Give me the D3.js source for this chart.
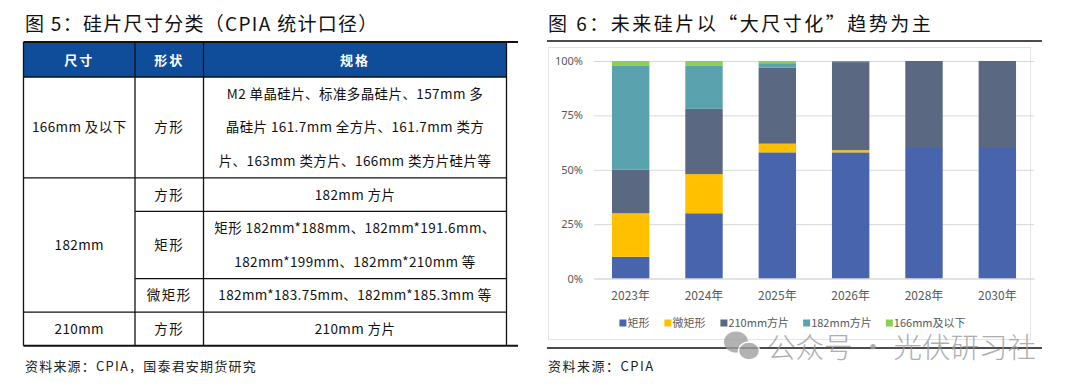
<!DOCTYPE html>
<html>
<head>
<meta charset="utf-8">
<script src="https://cdn.jsdelivr.net/npm/d3@7"></script>
<style>
  body { margin: 0; background: #fff; }
  svg text { font-family: "Noto Sans CJK SC", sans-serif; }
</style>
</head>
<body>
<svg id="fig" width="1080" height="390"></svg>
<script>
// ---- figure 5 table ----
var headers = ['尺寸', '形状', '规格'];
var sizeLabels = ['166mm 及以下', '182mm', '210mm'];
var sizeRowSpan = [1, 3, 1];
var shapes = ['方形', '方形', '矩形', '微矩形', '方形'];
var specs = [
  ['M2 单晶硅片、标准多晶硅片、157mm 多', '晶硅片 161.7mm 全方片、161.7mm 类方', '片、163mm 类方片、166mm 类方片硅片等'],
  ['182mm 方片'],
  ['矩形 182mm*188mm、182mm*191.6mm、', '182mm*199mm、182mm*210mm 等'],
  ['182mm*183.75mm、182mm*185.3mm 等'],
  ['210mm 方片']
];

// ---- figure 6 chart ----
var years = ['2023年', '2024年', '2025年', '2026年', '2028年', '2030年'];
var seriesNames = ['矩形', '微矩形', '210mm方片', '182mm方片', '166mm及以下'];
var rectShare = [10, 30, 58, 58, 60, 60];
var microRectShare = [20, 18, 4, 1, 0, 0];
var sq210Share = [20, 30, 35, 40.5, 40, 40];
var sq182Share = [48, 20, 2, 0.5, 0, 0];
var sq166Share = [2, 2, 1, 0, 0, 0];
var yTicks = [0, 25, 50, 75, 100];
var colors = ['#4864ac', '#ffc000', '#5a6882', '#5aa2ad', '#8ccf55'];


var svg = d3.select('#fig');
svg.append('rect').attr('width', 1080).attr('height', 390).attr('fill', '#fff');

drawTable(svg.append('g'));
drawChart(svg.append('g'));
drawWatermark(svg.append('g'));


// rough text width, used for the legend layout
function textWidth(s, size) {
  var w = 0;
  for (var i = 0; i < s.length; i++) {
    var c = s.charAt(i);
    if (s.charCodeAt(i) > 255) w += 1;
    else if (c === 'm') w += 0.86;
    else w += 0.57;
  }
  return w * size;
}


function drawTable(g) {
  var colX = [23.5, 135, 203.5, 506.5];
  var top = 43;
  var headH = 34;
  var lineH = 33.6;
  var ink = '#111';

  g.append('text')
    .attr('x', 25)
    .attr('y', 31)
    .attr('font-size', 19)
    .attr('letter-spacing', 1.3)
    .attr('fill', '#111')
    .text('图 5：硅片尺寸分类（CPIA 统计口径）');

  g.append('rect')
    .attr('x', colX[0]).attr('y', top)
    .attr('width', colX[3] - colX[0]).attr('height', headH)
    .attr('fill', '#0f4d9b');

  g.selectAll('.hd')
    .data(headers)
    .enter().append('text')
      .attr('class', 'hd')
      .attr('x', function(d, i) { return (colX[i] + colX[i + 1]) / 2; })
      .attr('y', top + headH / 2 + 5)
      .attr('text-anchor', 'middle')
      .attr('font-size', 13)
      .attr('font-weight', 'bold')
      .attr('letter-spacing', 2)
      .attr('fill', '#fff')
      .text(function(d) { return d; });

  // row tops from number of spec lines
  var rowTop = [];
  var y = top + headH;
  specs.forEach(function(s) {
    rowTop.push(y);
    y += s.length * lineH;
  });
  var bottom = y;

  specs.forEach(function(lines, r) {
    g.selectAll('.sp' + r)
      .data(lines)
      .enter().append('text')
        .attr('x', (colX[2] + colX[3]) / 2)
        .attr('y', function(d, i) { return rowTop[r] + (i + 0.5) * lineH + 5; })
        .attr('text-anchor', 'middle')
        .attr('font-size', 13.5)
        .attr('letter-spacing', 0.4)
        .attr('fill', ink)
        .text(function(d) { return d; });
  });

  g.selectAll('.shp')
    .data(shapes)
    .enter().append('text')
      .attr('x', (colX[1] + colX[2]) / 2)
      .attr('y', function(d, i) { return rowTop[i] + specs[i].length * lineH / 2 + 5; })
      .attr('text-anchor', 'middle')
      .attr('font-size', 13.5)
      .attr('letter-spacing', 1.5)
      .attr('fill', ink)
      .text(function(d) { return d; });

  // size cells span several rows
  var start = 0;
  var sizeCells = sizeLabels.map(function(label, i) {
    var y0 = rowTop[start];
    var end = start + sizeRowSpan[i];
    var y1 = end < rowTop.length ? rowTop[end] : bottom;
    start = end;
    return {label: label, y0: y0, y1: y1};
  });

  g.selectAll('.sz')
    .data(sizeCells)
    .enter().append('text')
      .attr('x', (colX[0] + colX[1]) / 2)
      .attr('y', function(d) { return (d.y0 + d.y1) / 2 + 5; })
      .attr('text-anchor', 'middle')
      .attr('font-size', 13.5)
      .attr('letter-spacing', 0.4)
      .attr('fill', ink)
      .text(function(d) { return d.label; });

  rowTop.forEach(function(ry, i) {
    var x0 = colX[0];
    if (i >= 2 && i <= 3) x0 = colX[1];
    g.append('line')
      .attr('x1', x0).attr('x2', colX[3])
      .attr('y1', ry).attr('y2', ry)
      .attr('stroke', ink).attr('stroke-width', 1.3);
  });

  g.append('line')
    .attr('x1', colX[0]).attr('x2', 518)
    .attr('y1', top - 1).attr('y2', top - 1)
    .attr('stroke', ink).attr('stroke-width', 2);
  g.append('line')
    .attr('x1', colX[0]).attr('x2', 518)
    .attr('y1', bottom).attr('y2', bottom)
    .attr('stroke', ink).attr('stroke-width', 2);

  g.selectAll('.vl')
    .data(colX)
    .enter().append('line')
      .attr('x1', function(d) { return d; })
      .attr('x2', function(d) { return d; })
      .attr('y1', top - 1).attr('y2', bottom)
      .attr('stroke', ink).attr('stroke-width', 1.3);

  g.append('text')
    .attr('x', 25)
    .attr('y', 371)
    .attr('font-size', 13)
    .attr('letter-spacing', 1.2)
    .attr('fill', '#222')
    .text('资料来源：CPIA，国泰君安期货研究');
}


function drawChart(g) {
  g.append('text')
    .attr('x', 548)
    .attr('y', 31)
    .attr('font-size', 19)
    .attr('letter-spacing', 2.5)
    .attr('fill', '#111')
    .text('图 6：未来硅片以“大尺寸化”趋势为主');

  g.append('line')
    .attr('x1', 547).attr('x2', 1042)
    .attr('y1', 41).attr('y2', 41)
    .attr('stroke', '#111').attr('stroke-width', 1.5);

  g.append('rect')
    .attr('x', 548.5).attr('y', 47.5)
    .attr('width', 482).attr('height', 292)
    .attr('fill', '#fff')
    .attr('stroke', '#e4e4e4');

  var x = d3.scaleBand()
    .domain(years)
    .range([594, 1034])
    .paddingInner(0.49)
    .paddingOuter(0.245);

  var y = d3.scaleLinear()
    .domain([0, 100])
    .range([278.5, 61]);

  var shares = [rectShare, microRectShare, sq210Share, sq182Share, sq166Share];
  var rows = years.map(function(yr, i) {
    var r = {year: yr};
    seriesNames.forEach(function(s, k) { r[s] = shares[k][i]; });
    return r;
  });
  var stacked = d3.stack().keys(seriesNames)(rows);

  var ya = g.append('g')
    .attr('transform', 'translate(594,0)')
    .call(d3.axisLeft(y)
      .tickValues(yTicks)
      .tickSize(-(1034 - 594))
      .tickFormat(function(d) { return d + '%'; }));
  ya.select('.domain').remove();
  ya.selectAll('.tick line').attr('stroke', '#d9d9d9');
  ya.selectAll('.tick text')
    .attr('x', -11)
    .attr('fill', '#595959')
    .attr('font-size', 11)
    .style('font-family', '"Noto Sans", sans-serif');

  g.append('g')
    .selectAll('g')
    .data(stacked)
    .enter().append('g')
      .attr('fill', function(d, i) { return colors[i]; })
    .selectAll('rect')
    .data(function(d) { return d; })
    .enter().append('rect')
      .attr('x', function(d) { return x(d.data.year); })
      .attr('y', function(d) { return y(d[1]); })
      .attr('width', x.bandwidth())
      .attr('height', function(d) { return y(d[0]) - y(d[1]); });

  var xa = g.append('g')
    .attr('transform', 'translate(0,278.5)')
    .call(d3.axisBottom(x).tickSize(0).tickPadding(13));
  xa.select('.domain').attr('stroke', '#d9d9d9');
  xa.selectAll('.tick text')
    .attr('fill', '#595959')
    .attr('font-size', 12);

  // legend
  var fs = 11;
  var gap = 15;
  var pos = [];
  var cx = 0;
  seriesNames.forEach(function(s) {
    pos.push(cx);
    cx += 8 + textWidth(s, fs) + gap;
  });
  var left = 792 - (cx - gap) / 2;

  var items = g.append('g')
    .attr('transform', 'translate(0,323)')
    .selectAll('g')
    .data(seriesNames)
    .enter().append('g')
      .attr('transform', function(d, i) { return 'translate(' + (left + pos[i]) + ',0)'; });
  items.append('rect')
    .attr('y', -3.5)
    .attr('width', 7).attr('height', 7)
    .attr('fill', function(d, i) { return colors[i]; });
  items.append('text')
    .attr('x', 8)
    .attr('y', 4)
    .attr('font-size', fs)
    .attr('fill', '#595959')
    .text(function(d) { return d; });

  g.append('line')
    .attr('x1', 547).attr('x2', 1042)
    .attr('y1', 348).attr('y2', 348)
    .attr('stroke', '#111').attr('stroke-width', 1.5);

  g.append('text')
    .attr('x', 548)
    .attr('y', 371)
    .attr('font-size', 13)
    .attr('letter-spacing', 1.5)
    .attr('fill', '#222')
    .text('资料来源：CPIA');
}


function drawWatermark(g) {
  g.attr('opacity', 0.8);
  g.append('ellipse')
    .attr('cx', 736).attr('cy', 342)
    .attr('rx', 12).attr('ry', 10.5)
    .attr('fill', '#a0a0a0');
  g.append('ellipse')
    .attr('cx', 749).attr('cy', 351)
    .attr('rx', 10.5).attr('ry', 9)
    .attr('fill', '#a0a0a0')
    .attr('stroke', '#fff')
    .attr('stroke-width', 1.5);
  g.append('text')
    .attr('x', 767)
    .attr('y', 358)
    .attr('font-size', 28.5)
    .attr('font-weight', 300)
    .attr('fill', '#9a9a9a')
    .text('公众号 · 光伏研习社');
}
</script>
</body>
</html>
